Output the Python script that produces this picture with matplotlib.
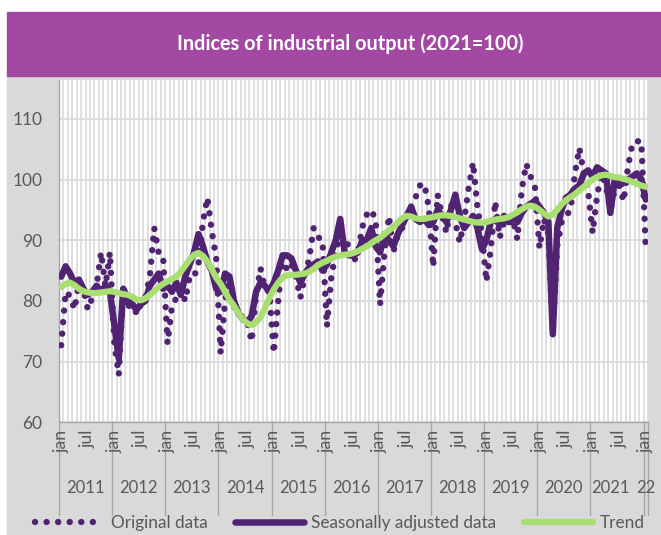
import numpy as np
import matplotlib.pyplot as plt
from matplotlib.patches import Rectangle

plt.rcParams['font.family'] = ['Lato', 'DejaVu Sans']

# monthly data, jan 2011 .. jan 2022
years = ['2011', '2012', '2013', '2014', '2015', '2016',
         '2017', '2018', '2019', '2020', '2021', '22']

original = [
    72.7, 81.5, 80.8, 78.6, 83.0, 82.0, 78.6, 80.5, 82.5, 88.0, 82.4, 88.0,   # 2011
    73.0, 67.8, 82.5, 78.6, 80.5, 77.8, 79.5, 80.5, 84.0, 92.0, 88.0, 87.5,   # 2012
    73.0, 79.0, 80.5, 82.0, 80.0, 84.0, 84.0, 86.0, 93.0, 97.0, 91.5, 87.0,   # 2013
    71.4, 80.0, 83.5, 79.0, 78.5, 77.0, 76.5, 73.3, 81.0, 85.4, 82.0, 81.5,   # 2014
    71.4, 80.0, 87.4, 85.0, 86.0, 84.0, 80.5, 84.0, 87.0, 92.0, 90.5, 90.0,   # 2015
    75.8, 84.0, 88.0, 91.0, 90.0, 89.0, 86.3, 88.0, 92.2, 94.2, 95.0, 93.4,   # 2016
    79.4, 88.0, 94.0, 88.0, 91.0, 92.0, 94.0, 95.5, 97.0, 99.0, 99.3, 95.4,   # 2017
    85.6, 97.5, 94.0, 91.2, 96.0, 93.0, 89.6, 93.4, 98.6, 102.8, 95.3, 91.0,  # 2018
    83.2, 88.5, 96.4, 90.4, 93.0, 92.5, 93.5, 90.1, 98.4, 102.6, 100.5, 98.6, # 2019
    88.7, 93.5, 91.0, 75.0, 89.0, 93.0, 94.0, 95.0, 101.0, 105.2, 101.0, 98.0,# 2020
    91.2, 97.3, 101.0, 99.0, 95.0, 98.4, 99.0, 96.4, 102.2, 106.0, 106.3, 106.3,  # 2021
    88.6,                                                                      # 2022
]

seasonal = [
    84.0, 85.7, 84.5, 83.0, 83.5, 82.0, 81.0, 81.5, 82.5, 81.5, 82.5, 81.5,
    76.0, 70.5, 82.0, 80.5, 79.5, 78.5, 79.5, 80.0, 82.5, 83.5, 84.5, 82.0,
    82.5, 81.5, 83.0, 81.0, 84.0, 86.0, 88.0, 91.0, 89.0, 86.5, 85.0, 82.0,
    81.5, 84.5, 84.0, 80.0, 78.0, 77.0, 76.5, 77.5, 81.5, 83.0, 82.5, 81.5,
    83.0, 85.0, 87.5, 87.5, 87.0, 85.0, 83.0, 84.5, 85.5, 86.0, 86.5, 85.0,
    86.0, 88.0, 90.0, 93.5, 88.0, 87.5, 87.5, 88.0, 90.0, 90.0, 92.0, 89.0,
    88.0, 91.0, 90.0, 89.0, 91.0, 92.5, 94.0, 95.5, 93.5, 93.0, 93.5, 92.5,
    93.0, 95.0, 94.0, 93.0, 95.0, 97.5, 94.0, 92.0, 93.0, 94.0, 92.0, 88.5,
    90.0, 93.0, 93.5, 92.5, 94.0, 93.0, 94.0, 93.0, 94.5, 95.5, 96.0, 96.5,
    95.5, 94.5, 93.0, 74.5, 92.0, 95.0, 97.0, 97.5, 98.5, 99.0, 101.0, 101.5,
    100.5, 102.0, 101.5, 101.0, 94.5, 100.0, 99.0, 99.5, 100.0, 100.5, 101.0, 100.0,
    96.7,
]

trend = [
    82.3, 82.8, 83.0, 82.6, 82.0, 81.6, 81.4, 81.3, 81.3, 81.4, 81.5, 81.6,
    81.5, 81.3, 81.1, 81.0, 80.7, 80.2, 80.1, 80.4, 81.0, 81.6, 82.3, 82.8,
    83.2, 83.6, 84.0, 84.8, 85.8, 86.8, 87.6, 87.9, 87.4, 86.5, 85.2, 83.8,
    82.8, 81.5, 80.2, 79.2, 78.0, 77.0, 76.3, 76.0, 76.5, 77.3, 78.8, 80.5,
    81.9, 83.0, 83.9, 84.2, 84.3, 84.3, 84.4, 84.5, 84.8, 85.3, 85.9, 86.3,
    86.6, 87.0, 87.3, 87.5, 87.6, 87.7, 87.9, 88.2, 88.6, 89.0, 89.5, 90.0,
    90.4, 91.0, 91.6, 92.2, 92.9, 93.6, 94.0, 93.9, 93.6, 93.5, 93.5, 93.7,
    93.8, 94.0, 94.1, 94.1, 94.0, 93.8, 93.6, 93.4, 93.2, 93.0, 92.9, 92.9,
    93.0, 93.2, 93.4, 93.5, 93.6, 93.8, 94.2, 94.6, 95.1, 95.5, 95.7, 95.5,
    95.0, 94.4, 93.9, 94.2, 95.0, 95.9, 96.6, 97.1, 97.6, 98.2, 98.8, 99.4,
    100.0, 100.4, 100.7, 100.8, 100.6, 100.4, 100.3, 100.1, 99.9, 99.6, 99.3, 99.0,
    98.8,
]

purple = '#512373'
green = '#a9df70'
grey_txt = '#595959'
grid_c = '#d9d9d9'

n = len(original)
x = np.arange(n)

fig = plt.figure(figsize=(6.61, 5.35), dpi=100)
W, H = 661, 535
fig.patches.append(Rectangle((7 / W, 0), 654 / W, 459 / H, transform=fig.transFigure,
                             color='#d9d9d9', zorder=-2))
fig.patches.append(Rectangle((7 / W, 459 / H), 654 / W, 64 / H, transform=fig.transFigure,
                             color='#a349a4', zorder=-2))
fig.text(350 / W, 1 - 44 / H, 'Indices of industrial output (2021=100)', color='white',
         fontsize=14.3, fontweight='bold', ha='center', va='center')

ax = fig.add_axes([59 / W, 1 - 422.3 / H, 589 / W, (422.3 - 80) / H])
ax.set_zorder(2)
ax.set_facecolor('white')

ax.plot(x, original, color=purple, lw=4.6, linestyle=(0, (0.01, 1.8)),
        dash_capstyle='round', label='Original data', zorder=3)
ax.plot(x, seasonal, color=purple, lw=4.7, solid_joinstyle='round',
        solid_capstyle='round', label='Seasonally adjusted data', zorder=4)
ax.plot(x, trend, color=green, lw=4.5, solid_capstyle='round', label='Trend', zorder=5)

ax.set_xlim(-0.5, n - 0.5)
ax.set_ylim(60, 60 + (422.3 - 80) / 6.07)
ax.set_yticks([60, 70, 80, 90, 100, 110])
ax.tick_params(axis='y', length=0, pad=12, labelsize=12.5, labelcolor=grey_txt)
ax.set_xticks([])
ax.set_xticks(np.arange(-0.5, n, 1), minor=True)
ax.tick_params(axis='x', which='minor', length=0)
ax.grid(which='minor', axis='x', color=grid_c, lw=1.2, zorder=0)
ax.grid(which='major', axis='y', color=grid_c, lw=1.2, zorder=0)
ax.set_axisbelow(True)
for s in ['top', 'right']:
    ax.spines[s].set_visible(False)
for s in ['left', 'bottom']:
    ax.spines[s].set_color('#a6a6a6')
    ax.spines[s].set_linewidth(1)

# two-level category axis
tr = ax.get_xaxis_transform()
for i in range(n):
    m = i % 12
    if m == 0 or m == 6:
        ax.text(i, -0.022, 'jan' if m == 0 else 'jul', transform=tr, rotation=90,
                ha='center', va='top', fontsize=12.8, color=grey_txt)
for k, yr in enumerate(years):
    start = 12 * k
    end = min(12 * k + 11, n - 1)
    xc = (start + end) / 2
    if yr == '2021':
        xc -= 1.5   # squeezed left by the short last group, as in the source
    ax.text(xc, -0.193, yr, transform=tr, ha='center', va='center',
            fontsize=12, color=grey_txt)
    ax.plot([start - 0.5, start - 0.5], [0, -0.272], transform=tr, color='#a6a6a6',
            lw=1, clip_on=False)
ax.plot([n - 0.5, n - 0.5], [0, -0.272], transform=tr, color='#a6a6a6', lw=1, clip_on=False)

fig.legend(loc='center', bbox_to_anchor=(340 / W, 1 - 523 / H), ncol=3, frameon=False,
           fontsize=12.4, handlelength=4.0, columnspacing=1.6, handletextpad=0.4,
           labelcolor=grey_txt)

fig.savefig('out.png', dpi=100)
